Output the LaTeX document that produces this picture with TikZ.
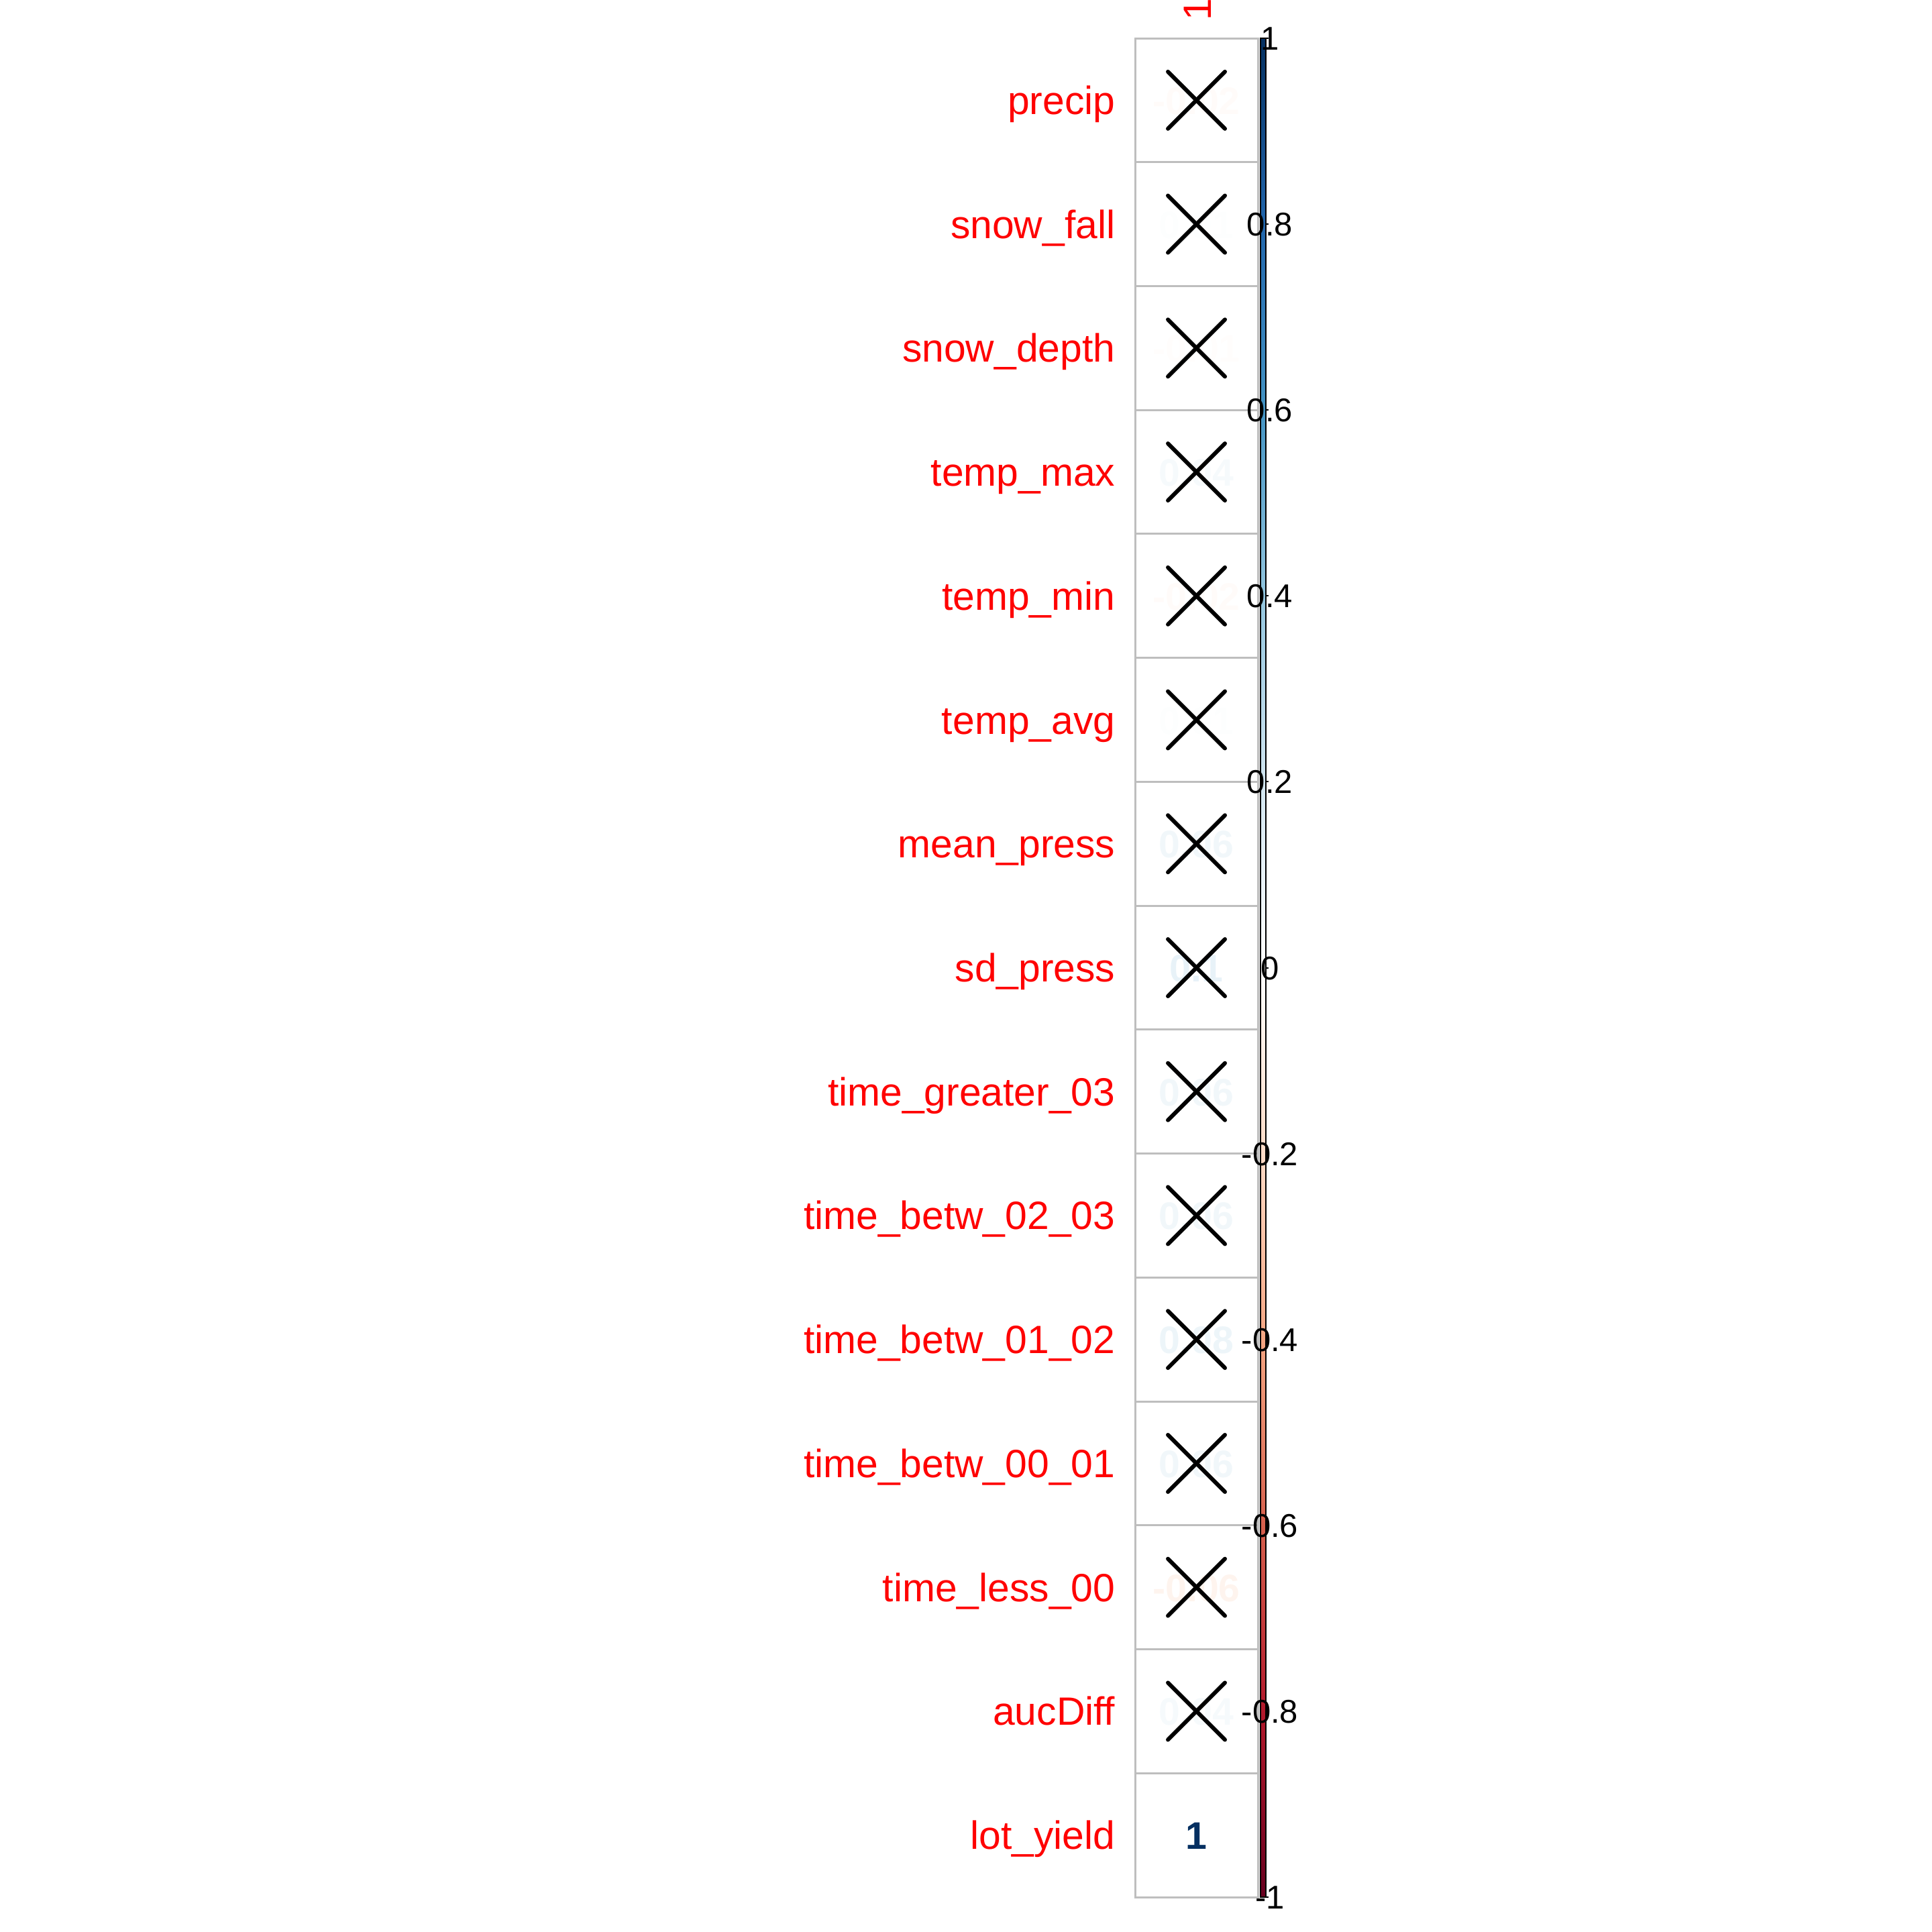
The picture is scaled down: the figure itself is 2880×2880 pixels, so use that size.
\documentclass[tikz,border=0pt]{standalone}
\usepackage{fontspec}
\setmainfont{Liberation Sans}
\definecolor{cpos}{HTML}{D1E5F0}
\definecolor{cneg}{HTML}{FDDBC7}
\definecolor{gridgray}{HTML}{BEBEBE}
\definecolor{darkblue}{HTML}{053061}
\definecolor{ka}{HTML}{67001F}
\definecolor{kb}{HTML}{B2182B}
\definecolor{kc}{HTML}{D6604D}
\definecolor{kd}{HTML}{F4A582}
\definecolor{ke}{HTML}{FDDBC7}
\definecolor{kf}{HTML}{FFFFFF}
\definecolor{kg}{HTML}{D1E5F0}
\definecolor{kh}{HTML}{92C5DE}
\definecolor{ki}{HTML}{4393C3}
\definecolor{kj}{HTML}{2166AC}
\definecolor{kk}{HTML}{053061}
\pgfdeclareverticalshading{rdbu}{100bp}{color(0bp)=(ka); color(25bp)=(ka); color(30bp)=(kb); color(35bp)=(kc); color(40bp)=(kd); color(45bp)=(ke); color(50bp)=(kf); color(55bp)=(kg); color(60bp)=(kh); color(65bp)=(ki); color(70bp)=(kj); color(75bp)=(kk); color(100bp)=(kk)}
\begin{document}
\begin{tikzpicture}[x=0.25pt,y=-0.25pt,
  cellbox/.style={draw=gridgray, line width=0.75pt},
  rowlab/.style={text=red, font=\fontsize{14.7}{14.7}\selectfont, anchor=base east, inner sep=0pt},
  cellnum/.style={font=\fontsize{14.3}{14.3}\selectfont\bfseries, anchor=base, inner sep=0pt},
  barlab/.style={font=\fontsize{12.25}{12.25}\selectfont, anchor=base, inner sep=0pt},
  crossline/.style={line width=1.5pt, line cap=round}]
\useasboundingbox (0,0) rectangle (2880,2880);
\foreach \lab/\val/\col [count=\i from 0] in {
  precip/-0.02/cneg!10!white,
  snow\_fall/0.01/cpos!5!white,
  snow\_depth/-0.01/cneg!5!white,
  temp\_max/0.04/cpos!20!white,
  temp\_min/-0.02/cneg!10!white,
  temp\_avg/0.01/cpos!5!white,
  mean\_press/0.06/cpos!30!white,
  sd\_press/0.1/cpos!50!white,
  time\_greater\_03/0.06/cpos!30!white,
  time\_betw\_02\_03/0.06/cpos!30!white,
  time\_betw\_01\_02/0.08/cpos!40!white,
  time\_betw\_00\_01/0.06/cpos!30!white,
  time\_less\_00/-0.06/cneg!30!white,
  aucDiff/0.04/cpos!20!white,
  lot\_yield/1/darkblue}
{
  \pgfmathsetmacro\ya{57+\i*184.733}
  \pgfmathsetmacro\yb{\ya+184.733}
  \pgfmathsetmacro\yc{\ya+92.367}
  \draw[cellbox] (1692,\ya) rectangle (1875,\yb);
  \node[cellnum, text=\col] (n\i) at (1783.5,\yc+21) {\val};
  \node[rowlab] (l\i) at (1663,\yc+21) {\lab};
  \ifnum\i<14
    \draw[crossline] (1741,\yc-42.5) -- (1826,\yc+42.5);
    \draw[crossline] (1741,\yc+42.5) -- (1826,\yc-42.5);
  \fi
}
\node[text=red, font=\fontsize{14.7}{14.7}\selectfont, rotate=90, anchor=base west, inner sep=0pt] (ctop) at (1805,31) {1};
\fill[shading=rdbu] (1879,57) rectangle (1887,2828);
\draw[line width=0.5pt] (1879,57) rectangle (1887,2828);
\foreach \v/\t in {1/1,0.8/0.8,0.6/0.6,0.4/0.4,0.2/0.2,0/0,-0.2/-0.2,-0.4/-0.4,-0.6/-0.6,-0.8/-0.8,-1/-1}
{
  \pgfmathsetmacro\yt{57+(1-\v)*1385.5}
  \draw[line width=0.5pt] (1887,\yt) -- (1891,\yt);
  \node[barlab] at (1893,\yt+17.5) {\t};
}
\end{tikzpicture}
\end{document}
